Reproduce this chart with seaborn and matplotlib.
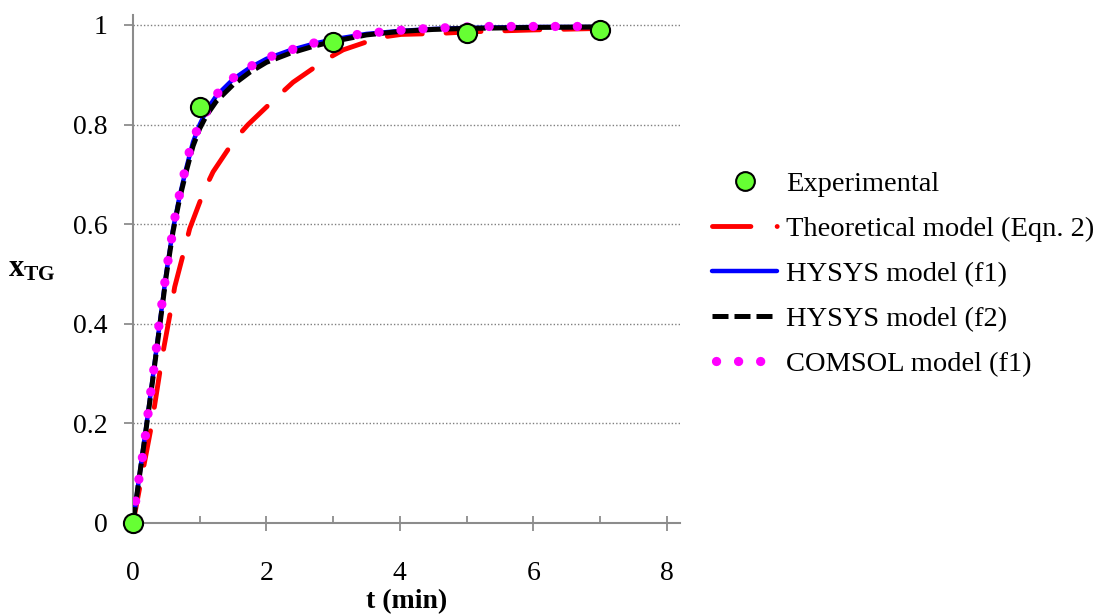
import matplotlib
matplotlib.use("Agg")
import matplotlib.pyplot as plt
import seaborn as sns
import numpy as np
from matplotlib.lines import Line2D

# ---------------- data ----------------
exp_t = [0, 1, 3, 5, 7]
exp_x = [0.0, 0.835, 0.965, 0.984, 0.989]

theo_t = [0, 0.275, 0.415, 0.465, 0.575, 0.625, 0.775, 0.85, 1.065, 1.2, 1.525,
          1.725, 2.1, 2.4, 2.885, 3.15, 3.7, 4.02, 4.6, 5.0, 6.0, 7.0]
theo_x = [0.0, 0.194, 0.314, 0.354, 0.434, 0.474, 0.551, 0.591, 0.667, 0.705, 0.770,
          0.800, 0.848, 0.885, 0.930, 0.950, 0.975, 0.981, 0.983, 0.986, 0.990, 0.993]

hysys1_t = [0, 0.1, 0.2, 0.3, 0.4, 0.5, 0.6, 0.7, 0.8, 0.9, 1.0, 1.1, 1.25, 1.5,
            1.75, 2.0, 2.35, 2.7, 3.0, 3.5, 4.0, 4.5, 5.0, 6.0, 7.0]
hysys1_x = [0.0, 0.099, 0.195, 0.296, 0.400, 0.503, 0.590, 0.657, 0.713, 0.765, 0.800,
            0.828, 0.858, 0.891, 0.914, 0.932, 0.949, 0.962, 0.971, 0.982, 0.988,
            0.992, 0.994, 0.996, 0.996]

hysys2_t = [0, 0.1, 0.2, 0.3, 0.4, 0.5, 0.6, 0.7, 0.8, 0.9, 1.0, 1.1, 1.25, 1.5,
            1.75, 2.0, 2.35, 2.7, 3.0, 3.5, 4.0, 4.5, 5.0, 6.0, 7.0]
hysys2_x = [0.0, 0.097, 0.192, 0.292, 0.395, 0.498, 0.585, 0.652, 0.707, 0.757, 0.792,
            0.818, 0.847, 0.880, 0.905, 0.925, 0.943, 0.957, 0.967, 0.980, 0.987,
            0.991, 0.993, 0.995, 0.996]

comsol_t = [0, 0.04, 0.087, 0.139, 0.185, 0.225, 0.265, 0.31, 0.35, 0.385, 0.43, 0.475,
            0.52, 0.575, 0.625, 0.69, 0.76, 0.835, 0.94, 1.1, 1.25, 1.475, 1.75, 2.05,
            2.37, 2.69, 3.0, 3.31, 3.65, 3.97, 4.3, 4.63, 4.95, 5.3, 5.63, 5.97, 6.29,
            6.62, 7.0]
comsol_x = [0.0, 0.044, 0.087, 0.130, 0.174, 0.219, 0.262, 0.306, 0.350, 0.393, 0.437,
            0.481, 0.523, 0.568, 0.611, 0.655, 0.697, 0.741, 0.783, 0.826, 0.860, 0.891,
            0.916, 0.936, 0.950, 0.963, 0.973, 0.980, 0.985, 0.989, 0.992, 0.994, 0.996,
            0.997, 0.997, 0.997, 0.997, 0.997, 0.997]

labels = ["Experimental", "Theoretical model (Eqn. 2)", "HYSYS model (f1)",
          "HYSYS model (f2)", "COMSOL model (f1)"]
x_ticks = [0, 2, 4, 6, 8]
y_ticks = [0, 0.2, 0.4, 0.6, 0.8, 1]
y_tick_labels = ["0", "0.2", "0.4", "0.6", "0.8", "1"]

# ---------------- style ----------------
sns.set_theme(style="white")
plt.rcParams["font.family"] = ["Liberation Serif", "DejaVu Serif"]
plt.rcParams["mathtext.fontset"] = "custom"
plt.rcParams["mathtext.rm"] = "Liberation Serif"
plt.rcParams["mathtext.bf"] = "Liberation Serif:bold"
plt.rcParams["mathtext.it"] = "Liberation Serif:italic"
plt.rcParams["text.color"] = "black"
plt.rcParams["axes.labelcolor"] = "black"
plt.rcParams["xtick.labelcolor"] = "black"
plt.rcParams["ytick.labelcolor"] = "black"

FS = 20
GRAY = "#8c8c8c"
RED = "#ff0000"
BLUE = "#0000ff"
MAG = "#ff00ff"
GREEN = "#66ff33"

RED_LW = 3.5
DOT_LW = 6.7

fig = plt.figure(figsize=(11.09, 6.16), dpi=100)
ax = fig.add_axes([133 / 1109, 93 / 616, 547 / 1109, 508 / 616])

theo_ls = (0, (7.2, 4.9))
theo_leg_ls = (0, (7.9, 5.4, 0.01, 20))
dash_ls = (0, (3.2, 1.2))
dot_ls = (0, (0.01, 2.36))
dot_leg_ls = (1.94, (0.01, 2.36))

sns.lineplot(x=theo_t, y=theo_x, ax=ax, color=RED, linewidth=RED_LW, linestyle=theo_ls,
             dash_capstyle="round", zorder=3, sort=False)
sns.lineplot(x=hysys1_t, y=hysys1_x, ax=ax, color=BLUE, linewidth=3.2, zorder=4, sort=False)
sns.lineplot(x=hysys2_t, y=hysys2_x, ax=ax, color="black", linewidth=3.6, linestyle=dash_ls,
             zorder=5, sort=False)
sns.lineplot(x=comsol_t, y=comsol_x, ax=ax, color=MAG, linewidth=DOT_LW, linestyle=dot_ls,
             dash_capstyle="round", zorder=6, sort=False)
sns.scatterplot(x=exp_t, y=exp_x, ax=ax, color=GREEN, edgecolor="black", linewidth=1.5,
                s=190, zorder=8, clip_on=False)

ax.set_xlim(0, 8.2)
ax.set_ylim(0, 1.02)
ax.set_xticks(x_ticks)
ax.set_xticklabels([str(v) for v in x_ticks])
ax.set_xticks([1, 3, 5, 7], minor=True)
ax.set_yticks(y_ticks)
ax.set_yticklabels(y_tick_labels)

for s in ["top", "right"]:
    ax.spines[s].set_visible(False)
for s in ["left", "bottom"]:
    ax.spines[s].set_color(GRAY)
    ax.spines[s].set_linewidth(1.5)

ax.tick_params(axis="x", which="major", direction="inout", length=10.8, width=1.3,
               color=GRAY, labelsize=FS, pad=22, bottom=True, labelcolor="black")
ax.tick_params(axis="x", which="minor", direction="in", length=5.3, width=1.3,
               color=GRAY, bottom=True)
ax.tick_params(axis="y", which="major", direction="out", length=6.5, width=1.3,
               color=GRAY, labelsize=FS, pad=12, left=True, labelcolor="black")

for yv in y_ticks[1:]:
    ax.axhline(yv, xmin=0, xmax=1, color="#7f7f7f", linewidth=1.0, linestyle=(0, (1, 1.5)),
               zorder=1)
ax.grid(False)

ax.set_xlabel("t (min)", fontsize=FS, fontweight="bold", labelpad=2, color="black")
ax.set_ylabel(r"$\mathbf{x}_{\mathbf{TG}}$", fontsize=FS + 2, rotation=0, ha="center",
              va="center", color="black")
ax.yaxis.set_label_coords(-0.185, 0.5)

handles = [
    Line2D([], [], linestyle="none", marker="o", markersize=13.5, markerfacecolor=GREEN,
           markeredgecolor="black", markeredgewidth=1.5),
    Line2D([], [], color=RED, linewidth=RED_LW, linestyle=theo_leg_ls, dash_capstyle="round"),
    Line2D([], [], color=BLUE, linewidth=3.2),
    Line2D([], [], color="black", linewidth=3.6, linestyle=dash_ls),
    Line2D([], [], color=MAG, linewidth=DOT_LW, linestyle=dot_leg_ls, dash_capstyle="round"),
]
leg = fig.legend(handles, labels, loc="center left", bbox_to_anchor=(712 / 1109, 1 - 274 / 616),
                 frameon=False, fontsize=20.5, handlelength=2.3, handletextpad=0.3,
                 labelspacing=0.67, borderaxespad=0, borderpad=0)
for t in leg.get_texts():
    t.set_color("black")

fig.savefig("out.png", dpi=100)
